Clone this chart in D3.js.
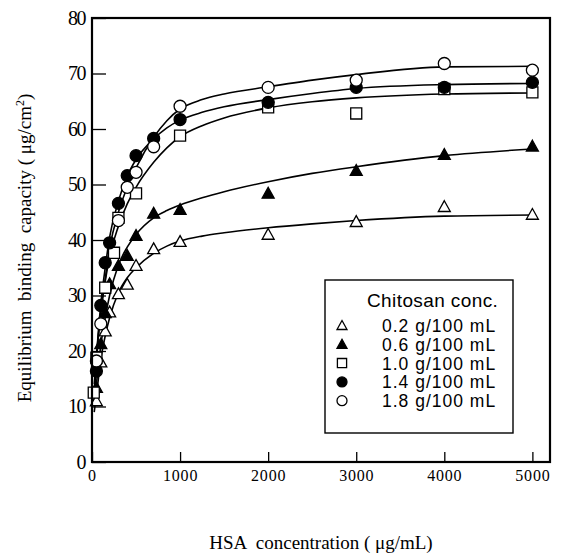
<!DOCTYPE html>
<html>
<head>
<meta charset="utf-8">
<script src="https://cdn.jsdelivr.net/npm/d3@7"></script>
<style>
  body { margin: 0; background: #fff; }
  svg { display: block; }
</style>
</head>
<body>
<svg id="svg" width="562" height="556"></svg>
<script>
// data
var seriesNames = ["0.2 g/100 mL", "0.6 g/100 mL", "1.0 g/100 mL", "1.4 g/100 mL", "1.8 g/100 mL"];
var seriesSymbols = ["triOpen", "triFilled", "sqOpen", "circFilled", "circOpen"];

var x02 = [50, 100, 150, 200, 300, 400, 500, 700, 1000, 2000, 3000, 4000, 5000];
var y02 = [11, 18, 23.6, 27, 30.3, 32, 35.4, 38.4, 39.7, 41, 43.3, 46, 44.6];
var x06 = [50, 100, 150, 200, 300, 400, 500, 700, 1000, 2000, 3000, 4000, 5000];
var y06 = [13.4, 21.3, 26.9, 32.1, 35.4, 37.2, 40.8, 44.8, 45.5, 48.4, 52.5, 55.4, 56.9];
var x10 = [20, 50, 150, 250, 300, 500, 1000, 2000, 3000, 4000, 5000];
var y10 = [12.5, 18.8, 31.4, 37.7, 44, 48.4, 58.8, 63.9, 62.8, 67.2, 66.6];
var x14 = [50, 100, 150, 200, 300, 400, 500, 700, 1000, 2000, 3000, 4000, 5000];
var y14 = [16.4, 28.2, 35.9, 39.5, 46.6, 51.6, 55.2, 58.3, 61.7, 64.8, 67.5, 67.5, 68.4];
var x18 = [50, 100, 300, 400, 500, 700, 1000, 2000, 3000, 4000, 5000];
var y18 = [18.2, 24.9, 43.5, 49.5, 52.2, 56.8, 64.1, 67.5, 68.8, 71.8, 70.6];

// fitted curves (traced)
var fitX  = [25, 50, 100, 150, 200, 300, 400, 500, 700, 850, 1000, 1250, 1500, 2000, 2500, 3000, 4000, 5000];
var fit02 = [9, 12, 18.5, 22.7, 26, 30.5, 33.2, 35, 37.6, 38.9, 39.8, 40.7, 41.3, 42.2, 42.9, 43.5, 44.3, 44.5];
var fit06 = [10, 14, 21, 26, 30, 35.5, 38.7, 41, 44, 45.3, 46.3, 47.6, 48.7, 50.5, 52, 53.2, 55.2, 56.4];
var fit10 = [14, 19, 27, 32.5, 37, 42.5, 46.5, 49.5, 54, 56.6, 58.6, 60.6, 62, 63.8, 64.9, 65.6, 66.3, 66.5];
var fit14 = [11, 18.5, 28.5, 35, 40.5, 47, 51.5, 54.5, 58.2, 60.2, 61.6, 63, 64, 65.3, 66.4, 67.3, 68, 68.2];
var fit18 = [11, 18, 27, 33, 38.5, 45, 49.5, 53, 58.5, 61.5, 63.6, 65.3, 66.3, 67.6, 68.8, 69.8, 71.2, 71.3];

var xTicks = [0, 1000, 2000, 3000, 4000, 5000];
var yTicks = [0, 10, 20, 30, 40, 50, 60, 70, 80];

var pointsX = [x02, x06, x10, x14, x18];
var pointsY = [y02, y06, y10, y14, y18];
var fits = [fit02, fit06, fit10, fit14, fit18];

draw();

function draw() {
	"use strict"

	var svg = d3.select("#svg");
	var serif = "'Liberation Serif', 'Times New Roman', serif";
	var sans = "'Liberation Sans', Arial, sans-serif";

	var x = d3.scaleLinear().domain([0, 5200]).range([92, 550]);
	var y = d3.scaleLinear().domain([0, 80]).range([462, 18]);

	// fitted curves
	var line = d3.line()
		.x(function(d){return x(d[0]);})
		.y(function(d){return y(d[1]);})
		.curve(d3.curveMonotoneX);
	fits.forEach(function(f) {
		svg.append("path")
			.datum(fitX.map(function(v, i){return [v, f[i]];}))
			.attr("d", line)
			.attr("fill", "none")
			.attr("stroke", "#000")
			.attr("stroke-width", 1.6);
	});

	// markers
	pointsX.forEach(function(xs, s) {
		var pts = xs.map(function(v, i){return [v, pointsY[s][i]];});
		svg.append("g").selectAll("path").data(pts).enter()
			.append("path")
			.attr("transform", function(d){return "translate(" + x(d[0]) + "," + y(d[1]) + ")";})
			.each(function(){ symbol(d3.select(this), seriesSymbols[s], 12); });
	});

	// axes (inward ticks)
	var xAxis = d3.axisBottom(x).tickValues(xTicks).tickSize(-10).tickPadding(8).tickFormat(d3.format("d"));
	var gx = svg.append("g").attr("transform", "translate(0,462)").call(xAxis);
	gx.select(".domain").remove();
	gx.selectAll("line").attr("stroke-width", 1.3);
	gx.selectAll("text")
		.attr("font-family", serif)
		.attr("font-size", 16)
		.attr("letter-spacing", 0.8)
		.attr("fill", "#000");

	var yAxis = d3.axisLeft(y).tickValues(yTicks).tickSize(-14).tickPadding(7);
	var gy = svg.append("g").attr("transform", "translate(92,0)").call(yAxis);
	gy.select(".domain").remove();
	gy.selectAll("line").attr("stroke-width", 1.3);
	gy.selectAll("text")
		.attr("font-family", serif)
		.attr("font-size", 20)
		.attr("letter-spacing", -1.5)
		.attr("fill", "#000");

	// frame
	svg.append("rect")
		.attr("x", 92).attr("y", 18)
		.attr("width", 458).attr("height", 444)
		.attr("fill", "none")
		.attr("stroke", "#000")
		.attr("stroke-width", 2.2);

	// axis titles
	svg.append("text")
		.attr("x", 321).attr("y", 549)
		.attr("text-anchor", "middle")
		.attr("font-family", serif)
		.attr("font-size", 19)
		.attr("xml:space", "preserve")
		.text("HSA  concentration ( \u03bcg/mL)");

	var yl = svg.append("text")
		.attr("transform", "translate(31,248) rotate(-90)")
		.attr("text-anchor", "middle")
		.attr("font-family", serif)
		.attr("font-size", 19);
	yl.append("tspan").text("Equilibrium  binding  capacity ( \u03bcg/cm");
	yl.append("tspan").attr("dy", -7).attr("font-size", 12).text("2");
	yl.append("tspan").attr("dy", 7).text(")");
	yl.attr("xml:space", "preserve");

	// legend
	var lg = svg.append("g");
	lg.append("rect")
		.attr("x", 325).attr("y", 280)
		.attr("width", 188).attr("height", 153)
		.attr("fill", "#fff")
		.attr("stroke", "#000")
		.attr("stroke-width", 1.4);
	lg.append("text")
		.attr("x", 367).attr("y", 307)
		.attr("font-family", sans)
		.attr("font-size", 19)
		.attr("letter-spacing", 0.4)
		.text("Chitosan conc.");
	seriesNames.forEach(function(name, i) {
		var ry = 332 + i * 18.8;
		lg.append("path")
			.attr("transform", "translate(342," + (ry - 6.5) + ")")
			.each(function(){ symbol(d3.select(this), seriesSymbols[i], 10); });
		lg.append("text")
			.attr("x", 382).attr("y", ry)
			.attr("font-family", sans)
			.attr("font-size", 17.5)
			.attr("letter-spacing", 1)
			.text(name);
	});
}

function symbol(sel, kind, size) {
	var h = size / 2;
	var d;
	if (kind == "triOpen" || kind == "triFilled") {
		d = "M0," + (-h) + "L" + h + "," + (h * 0.8) + "L" + (-h) + "," + (h * 0.8) + "Z";
	} else if (kind == "sqOpen") {
		var s = h * 0.92;
		d = "M" + (-s) + "," + (-s) + "H" + s + "V" + s + "H" + (-s) + "Z";
	} else {
		d = d3.arc()({innerRadius: 0, outerRadius: h, startAngle: 0, endAngle: 2 * Math.PI});
	}
	var filled = kind.indexOf("Filled") >= 0;
	sel.attr("d", d)
		.attr("fill", filled ? "#000" : "#fff")
		.attr("stroke", "#000")
		.attr("stroke-width", 1.3);
}
</script>
</body>
</html>
